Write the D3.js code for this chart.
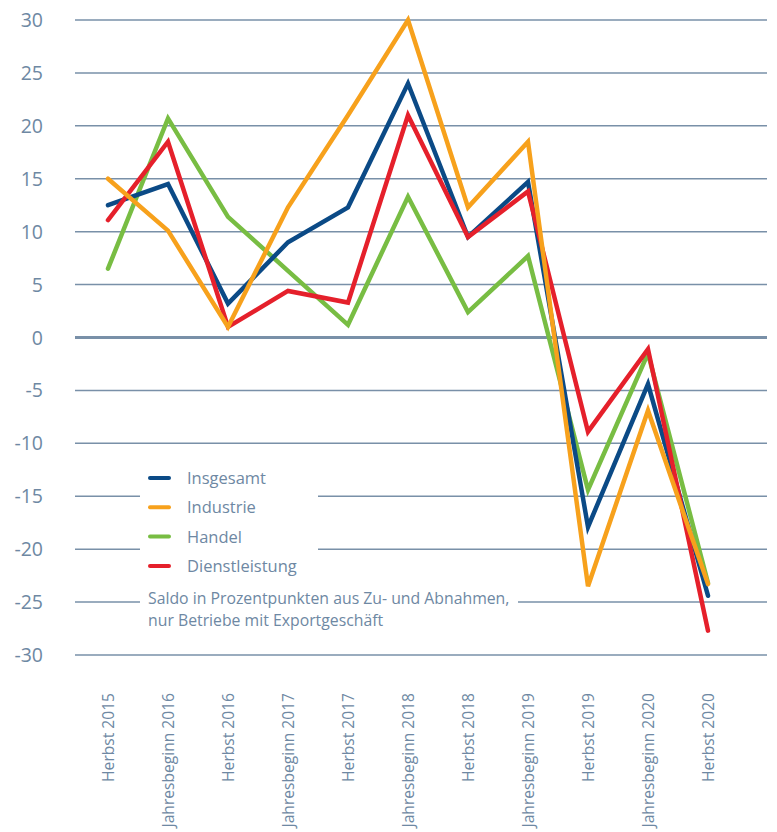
<!DOCTYPE html>
<html>
<head>
<meta charset="utf-8">
<script src="https://cdn.jsdelivr.net/npm/d3@7"></script>
<style>
  body { margin: 0; background: #fff; }
  svg text { font-family: "Open Sans", "Noto Sans", sans-serif; fill: #6e88a3; }
</style>
</head>
<body>
<div id="chart"></div>
<script>
// Data
const periods = ["Herbst 2015", "Jahresbeginn 2016", "Herbst 2016", "Jahresbeginn 2017", "Herbst 2017",
    "Jahresbeginn 2018", "Herbst 2018", "Jahresbeginn 2019", "Herbst 2019", "Jahresbeginn 2020", "Herbst 2020"];

const insgesamt = [12.5, 14.5, 3.2, 9.0, 12.3, 24.0, 9.5, 14.7, -17.9, -4.4, -24.4];
const industrie = [15.0, 10.1, 1.0, 12.3, 21.0, 30.0, 12.3, 18.5, -23.5, -6.9, -23.3];
const handel = [6.5, 20.7, 11.4, 6.3, 1.2, 13.3, 2.4, 7.7, -14.4, -1.5, -23.2];
const dienstleistung = [11.1, 18.5, 1.0, 4.4, 3.3, 21.0, 9.5, 13.8, -8.9, -1.1, -27.7];

const yTicks = [30, 25, 20, 15, 10, 5, 0, -5, -10, -15, -20, -25, -30];

const seriesNames = ["Insgesamt", "Industrie", "Handel", "Dienstleistung"];
const seriesValues = [insgesamt, industrie, handel, dienstleistung];
const seriesColors = ["#0b4a86", "#f7a11c", "#78bd43", "#e5202b"];
const drawOrder = [2, 0, 3, 1];

const caption = ["Saldo in Prozentpunkten aus Zu- und Abnahmen,", "nur Betriebe mit Exportgeschäft"];

// Space
const width = 777, height = 832;
const gridLeft = 75, gridRight = 767;

const svg = d3.select("#chart").append("svg")
    .attr("width", width)
    .attr("height", height);

const x = d3.scalePoint()
    .domain(periods)
    .range([108, 708]);

const y = d3.scaleLinear()
    .domain([-30, 30])
    .range([655, 20]);

// Grid
svg.append("g")
    .selectAll("line")
    .data(yTicks)
    .join("line")
    .attr("x1", gridLeft)
    .attr("x2", gridRight)
    .attr("y1", d => y(d))
    .attr("y2", d => y(d))
    .attr("stroke", "#7990a8")
    .attr("stroke-width", d => d === 0 ? 3 : 1.5);

svg.append("g")
    .selectAll("text")
    .data(yTicks)
    .join("text")
    .attr("x", 43)
    .attr("y", d => y(d))
    .attr("dy", "0.36em")
    .attr("text-anchor", "end")
    .style("font-size", "19.5px")
    .text(d => d);

// X labels
svg.append("g")
    .selectAll("text")
    .data(periods)
    .join("text")
    .attr("transform", d => `translate(${x(d)},693) rotate(-90)`)
    .attr("dy", "0.36em")
    .attr("text-anchor", "end")
    .style("font-size", "15.6px")
    .text(d => d);

// Legend background
svg.append("rect")
    .attr("x", 140).attr("y", 462)
    .attr("width", 178).attr("height", 120)
    .attr("fill", "#fff");
svg.append("rect")
    .attr("x", 140).attr("y", 584)
    .attr("width", 378).attr("height", 46)
    .attr("fill", "#fff");

// Lines
const line = d3.line()
    .x((d, i) => x(periods[i]))
    .y(d => y(d));

svg.append("g")
    .selectAll("path")
    .data(drawOrder)
    .join("path")
    .attr("d", i => line(seriesValues[i]))
    .attr("fill", "none")
    .attr("stroke", i => seriesColors[i])
    .attr("stroke-width", 4.5)
    .attr("stroke-linejoin", "miter")
    .attr("stroke-linecap", "round");

// Legend
const legend = svg.append("g").attr("transform", "translate(148,478)");

legend.selectAll("line")
    .data(seriesNames)
    .join("line")
    .attr("x1", 2).attr("x2", 21)
    .attr("y1", (d, i) => i * 29.3)
    .attr("y2", (d, i) => i * 29.3)
    .attr("stroke", (d, i) => seriesColors[i])
    .attr("stroke-width", 4)
    .attr("stroke-linecap", "round");

legend.selectAll("text")
    .data(seriesNames)
    .join("text")
    .attr("x", 39)
    .attr("y", (d, i) => i * 29.3)
    .attr("dy", "0.36em")
    .style("font-size", "16.5px")
    .text(d => d);

svg.append("g")
    .selectAll("text")
    .data(caption)
    .join("text")
    .attr("x", 148)
    .attr("y", (d, i) => 604 + i * 22)
    .style("font-size", "15.8px")
    .text(d => d);
</script>
</body>
</html>
